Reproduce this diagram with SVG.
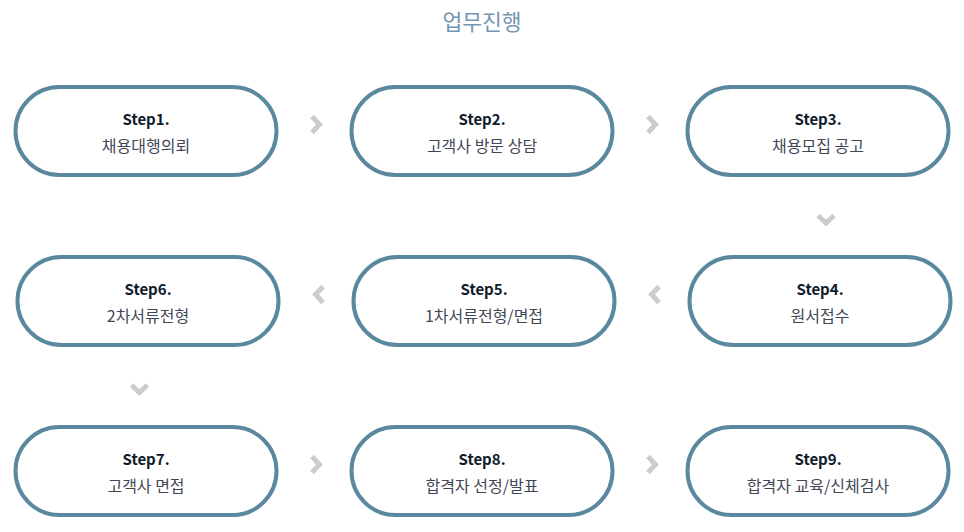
<svg xmlns="http://www.w3.org/2000/svg" xmlns:xlink="http://www.w3.org/1999/xlink" width="964" height="532" viewBox="0 0 964 532">
<style>
.node rect{fill:#fff;stroke:#5a889e;stroke-width:4}
.step{font-family:"Noto Sans CJK KR","Noto Sans",sans-serif;font-weight:700;font-size:15px;fill:#111c2b;text-anchor:middle}
.sub{font-family:"Noto Sans CJK KR","Noto Sans",sans-serif;font-size:16px;fill:#3f4756;text-anchor:middle}
.title{font-family:"Noto Sans CJK KR","Noto Sans",sans-serif;font-size:21.5px;fill:#7495b1;text-anchor:middle}
.chev{fill:none;stroke:#cccccc;stroke-width:5;stroke-linejoin:miter}
</style>
<defs>
<path id="chev" class="chev" d="M-4,-8 L3.5,0 L-4,8"/>
</defs>
<rect width="964" height="532" fill="#fff"/>
<text class="title" x="482" y="30">업무진행</text>
<g id="connectors">
<use xlink:href="#chev" href="#chev" transform="translate(316,124.5)"/>
<use xlink:href="#chev" href="#chev" transform="translate(652,124.5)"/>
<use xlink:href="#chev" href="#chev" transform="translate(826,219.5) rotate(90)"/>
<use xlink:href="#chev" href="#chev" transform="translate(655,294.5) rotate(180)"/>
<use xlink:href="#chev" href="#chev" transform="translate(319,294.5) rotate(180)"/>
<use xlink:href="#chev" href="#chev" transform="translate(139.5,389) rotate(90)"/>
<use xlink:href="#chev" href="#chev" transform="translate(316,464.5)"/>
<use xlink:href="#chev" href="#chev" transform="translate(652,464.5)"/>
</g>
<g id="step1" class="node"><rect x="15.5" y="87" width="261" height="88" rx="44"/><text class="step" x="146" y="124.5">Step1.</text><text class="sub" x="146" y="152">채용대행의뢰</text></g>
<g id="step2" class="node"><rect x="351.5" y="87" width="261" height="88" rx="44"/><text class="step" x="482" y="124.5">Step2.</text><text class="sub" x="482" y="152">고객사 방문 상담</text></g>
<g id="step3" class="node"><rect x="687.5" y="87" width="261" height="88" rx="44"/><text class="step" x="818" y="124.5">Step3.</text><text class="sub" x="818" y="152">채용모집 공고</text></g>
<g id="step4" class="node"><rect x="689.5" y="257" width="261" height="88" rx="44"/><text class="step" x="820" y="294.5">Step4.</text><text class="sub" x="820" y="322">원서접수</text></g>
<g id="step5" class="node"><rect x="353.5" y="257" width="261" height="88" rx="44"/><text class="step" x="484" y="294.5">Step5.</text><text class="sub" x="484" y="322">1차서류전형/면접</text></g>
<g id="step6" class="node"><rect x="17.5" y="257" width="261" height="88" rx="44"/><text class="step" x="148" y="294.5">Step6.</text><text class="sub" x="148" y="322">2차서류전형</text></g>
<g id="step7" class="node"><rect x="15.5" y="427" width="261" height="88" rx="44"/><text class="step" x="146" y="464.5">Step7.</text><text class="sub" x="146" y="492">고객사 면접</text></g>
<g id="step8" class="node"><rect x="351.5" y="427" width="261" height="88" rx="44"/><text class="step" x="482" y="464.5">Step8.</text><text class="sub" x="482" y="492">합격자 선정/발표</text></g>
<g id="step9" class="node"><rect x="687.5" y="427" width="261" height="88" rx="44"/><text class="step" x="818" y="464.5">Step9.</text><text class="sub" x="818" y="492">합격자 교육/신체검사</text></g>
</svg>
